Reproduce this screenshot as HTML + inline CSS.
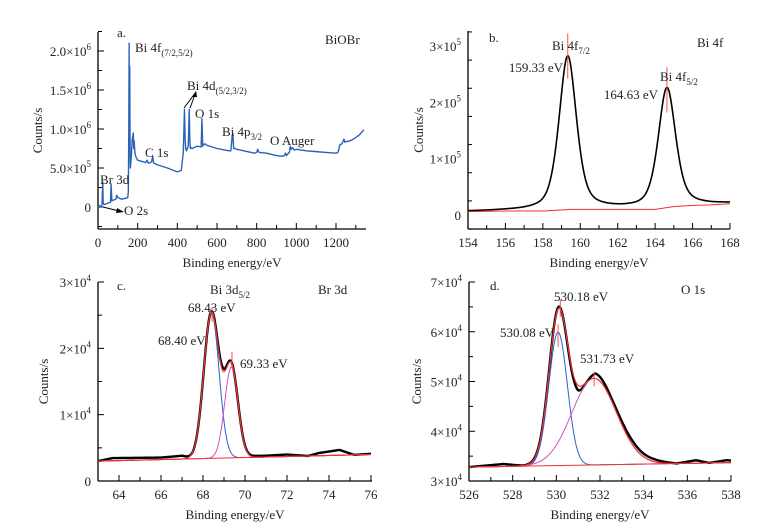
<!DOCTYPE html>
<html><head><meta charset="utf-8"><style>
html,body{margin:0;padding:0;background:#fff}
svg{display:block;font-family:"Liberation Serif",serif}
</style></head><body>
<svg id="fig" width="778" height="526" viewBox="0 0 778 526"></svg>
<script>
// ---- Panel a: survey spectrum (eV, counts in 1e6) ----
const aX=[0,5,10,20,24,26,30,50,63,66,70,90,95,100,120,150,153,155,157,158,160,162,163,165,168,172,178,180,182,186,190,200,240,248,252,256,270,276,280,284,300,350,400,420,430,436,439,442,446,455,460,463,466,470,475,500,520,524,528,532,540,550,600,660,670,676,680,684,690,700,790,800,805,812,850,900,930,940,945,950,965,970,974,980,990,1000,1050,1100,1150,1200,1210,1220,1230,1235,1240,1245,1250,1260,1280,1300,1320,1340];
const aY=[0.0,0.02,0.0,0.03,0.32,0.05,0.03,0.05,0.06,0.29,0.08,0.1,0.15,0.12,0.1,0.12,0.2,0.9,2.1,1.1,1.8,0.6,0.5,0.55,0.65,0.85,0.95,0.75,0.85,0.7,0.65,0.6,0.57,0.6,0.57,0.56,0.58,0.65,0.57,0.56,0.54,0.5,0.45,0.47,0.7,1.25,0.9,0.75,0.72,0.78,1.25,0.85,0.75,0.76,0.75,0.78,0.77,1.13,0.78,0.8,0.81,0.79,0.75,0.72,0.72,0.9,0.94,0.75,0.75,0.74,0.69,0.7,0.74,0.7,0.69,0.66,0.65,0.66,0.69,0.66,0.7,0.78,0.74,0.76,0.73,0.74,0.72,0.71,0.7,0.69,0.7,0.8,0.81,0.84,0.87,0.83,0.84,0.84,0.86,0.89,0.93,0.99];
const aYTicks=[0,0.5,1.0,1.5,2.0];
const aYLabels=["0","5.0×10^5","1.0×10^6","1.5×10^6","2.0×10^6"];
const aXTicks=[0,200,400,600,800,1000,1200];

// ---- Panel b: Bi 4f (counts in 1e5) ----
const bCenters=[159.33,164.63];
const bHeights=[2.72,2.12];
const bFwhm=[1.1,1.1];
const bBaseX=[154,156,158,159.5,160.5,164,165,166,167,168];
const bBaseY=[0.06,0.07,0.07,0.1,0.1,0.1,0.15,0.17,0.18,0.2];
const bYTicks=[0,1,2,3];
const bYLabels=["0","1×10^5","2×10^5","3×10^5"];
const bXTicks=[154,156,158,160,162,164,166,168];

// ---- Panel c: Br 3d (counts in 1e4) ----
const cCenters=[68.4,69.35];
const cHeights=[2.2,1.37];
const cFwhm=[0.85,0.75];
const cBaseX=[63,76];
const cBaseY=[0.3,0.4];
const cResX=[63,63.7,66,67,67.5,68.4,68.9,69.5,70.5,71,72,73,73.5,74.5,75.2,76];
const cResY=[0,0.04,0.03,0.05,0,0,0.05,0,0.02,0.02,0.03,0.0,0.04,0.08,0.0,0.01];
const cYTicks=[0,1,2,3];
const cYLabels=["0","1×10^4","2×10^4","3×10^4"];
const cXTicks=[64,66,68,70,72,74,76];

// ---- Panel d: O 1s (counts in 1e4) ----
const dCenters=[530.08,531.73];
const dHeights=[2.68,1.74];
const dFwhm=[1.0,2.4];
const dBaseX=[526,538];
const dBaseY=[3.28,3.37];
const dResX=[526,527.6,528.5,530.1,531,531.8,532.5,533.5,534.5,535.5,536.4,537,537.8,538];
const dResY=[0,0.05,0,0.03,-0.1,0.1,0.05,0.08,0.05,0,0.06,0,0.05,0.04];
const dYTicks=[3,4,5,6,7];
const dYLabels=["3×10^4","4×10^4","5×10^4","6×10^4","7×10^4"];
const dXTicks=[526,528,530,532,534,536,538];

const NS="http://www.w3.org/2000/svg";
const svg=document.getElementById('fig');
function mk(tag,attrs,parent){const e=document.createElementNS(NS,tag);for(const k in attrs)e.setAttribute(k,attrs[k]);(parent||svg).appendChild(e);return e;}
function lin(d0,d1,r0,r1){return v=>r0+(v-d0)*(r1-r0)/(d1-d0);}
function interp(xs,ys,x){if(x<=xs[0])return ys[0];for(let i=1;i<xs.length;i++){if(x<=xs[i]){const t=(x-xs[i-1])/(xs[i]-xs[i-1]);return ys[i-1]+t*(ys[i]-ys[i-1]);}}return ys[ys.length-1];}
function pv(x,c,h,w,eta){const d=(x-c)/w;return h*(eta/(1+4*d*d)+(1-eta)*Math.exp(-4*Math.LN2*d*d));}
function txt(x,y,s,opts,parent){
  const t=mk('text',Object.assign({x:x,y:y,'font-size':13,fill:'#222'},opts||{}),parent);
  const m=s.match(/^([^\^_]*)([\^_])(.*)$/);
  if(!m){t.textContent=s;return t;}
  const a=mk('tspan',{},t);a.textContent=m[1];
  const up=m[2]==='^';
  const b=mk('tspan',{dy:up?-6:4,'font-size':9},t);b.textContent=m[3];
  return t;
}
function axes(g,p,xTicks,xMinorStep,yTicks,yLabels,yMinorStep){
  mk('line',{x1:p.L,y1:p.T,x2:p.L,y2:p.B,stroke:'#000','stroke-width':1.3},g);
  mk('line',{x1:p.L,y1:p.B,x2:p.R,y2:p.B,stroke:'#000','stroke-width':1.3},g);
  for(let v=p.x0;v<=p.x1+1e-9;v+=xMinorStep){const x=p.sx(v);
    const major=xTicks.some(t=>Math.abs(t-v)<1e-6);
    mk('line',{x1:x,y1:p.B,x2:x,y2:p.B-(major?6:4),stroke:'#000','stroke-width':1},g);}
  xTicks.forEach(v=>{const t=txt(p.sx(v),p.B+18,String(v),{'text-anchor':'middle'},g);
    });
  for(let v=p.y0;v<=p.y1+1e-9;v+=yMinorStep){const y=p.sy(v);
    const major=yTicks.some(t=>Math.abs(t-v)<1e-6);
    mk('line',{x1:p.L,y1:y,x2:p.L+(major?6:4),y2:y,stroke:'#000','stroke-width':1},g);}
  yTicks.forEach((v,i)=>{const t=txt(p.L-7,p.sy(v)+5,yLabels[i],{'text-anchor':'end'},g);
    });
  const xt=txt((p.L+p.R)/2,p.B+38,'Binding energy/eV',{'text-anchor':'middle'},g);
  
  const yt=txt(0,0,'Counts/s',{'text-anchor':'middle',transform:`translate(${p.yTitleX},${(p.T+p.B)/2}) rotate(-90)`},g);
  
}
function path(g,pts,color,w,name){const d=pts.map((q,i)=>(i?'L':'M')+q[0].toFixed(2)+','+q[1].toFixed(2)).join('');
  const e=mk('path',{d:d,fill:'none',stroke:color,'stroke-width':w,'stroke-linejoin':'round'},g);
  return e;}
function sample(p,f){const pts=[];for(let i=0;i<=400;i++){const x=p.x0+(p.x1-p.x0)*i/400;pts.push([p.sx(x),p.sy(f(x))]);}return pts;}
function mark(g,x,y1,y2){mk('line',{x1:x,y1:y1,x2:x,y2:y2,stroke:'#f05050','stroke-width':1},g);}

// Panel a
(function(){
  const g=mk('g',{});
  const p={L:98,R:366,T:32,B:229,x0:0,x1:1350,y0:-0.25,y1:2.25,yTitleX:42};
  p.sx=lin(0,1200,98,336);p.sy=lin(0,2,207,51);
  axes(g,p,aXTicks,100,aYTicks,aYLabels,0.25);
  path(g,aX.map((x,i)=>[p.sx(x),p.sy(aY[i])]),'#2a62b8',1.4,'survey-line');
  txt(117,37,'a.',{},g);
  txt(325,44,'BiOBr',{},g);
  txt(135,52,'Bi 4f_(7/2,5/2)',{},g);
  txt(187,90,'Bi 4d_(5/2,3/2)',{},g);
  txt(195,118,'O 1s',{},g);
  txt(145,157,'C 1s',{},g);
  txt(222,136,'Bi 4p_3/2',{},g);
  txt(270,145,'O Auger',{},g);
  txt(100,184,'Br 3d',{},g);
  txt(124,215,'O 2s',{},g);
  mk('line',{x1:184,y1:108,x2:196,y2:92,stroke:'#000','stroke-width':1},g);
  mk('line',{x1:190,y1:108,x2:196,y2:92,stroke:'#000','stroke-width':1},g);
  mk('polygon',{points:'196,91 192,97 197,97',fill:'#000'},g);
  mk('line',{x1:103,y1:207,x2:119,y2:211,stroke:'#000','stroke-width':1},g);
  mk('polygon',{points:'124,212 117,208 116,213',fill:'#000'},g);
})();

// Panel b
(function(){
  const g=mk('g',{});
  const p={L:468,R:730,T:31,B:229,x0:154,x1:168,y0:-0.25,y1:3.25,yTitleX:423};
  p.sx=lin(154,168,468,730);p.sy=lin(0,3,215,46);
  axes(g,p,bXTicks,1,bYTicks,bYLabels,0.5);
  const base=x=>interp(bBaseX,bBaseY,x);
  path(g,sample(p,x=>base(x)+bCenters.reduce((s,c,i)=>s+pv(x,c,bHeights[i],bFwhm[i],0.5),0)),'#000',1.6,'bi4f-spectrum');
  path(g,sample(p,base),'#f03030',1,'bi4f-background');
  bCenters.forEach((c,i)=>mark(g,p.sx(c),p.sy(bHeights[i]+0.5),p.sy(bHeights[i]-0.3)));
  txt(489,42,'b.',{},g);
  txt(697,47,'Bi 4f',{},g);
  txt(552,50,'Bi 4f_7/2',{},g);
  txt(563,72,'159.33 eV',{'text-anchor':'end'},g);
  txt(660,81,'Bi 4f_5/2',{},g);
  txt(658,99,'164.63 eV',{'text-anchor':'end'},g);
})();

// Panel c
(function(){
  const g=mk('g',{});
  const p={L:98,R:372,T:282,B:481,x0:63,x1:76,y0:0,y1:3,yTitleX:48};
  p.sx=lin(64,76,119,371);p.sy=lin(0,3,481,282);
  axes(g,p,cXTicks,1,cYTicks,cYLabels,0.5);
  const base=x=>interp(cBaseX,cBaseY,x);
  const fit=x=>base(x)+cCenters.reduce((s,c,i)=>s+pv(x,c,cHeights[i],cFwhm[i],0),0);
  path(g,sample(p,x=>fit(x)+interp(cResX,cResY,x)),'#000',2.4,'br3d-spectrum');
  path(g,sample(p,x=>base(x)+pv(x,cCenters[0],cHeights[0],cFwhm[0],0)),'#2a62c8',1,'br3d-component-1');
  path(g,sample(p,x=>base(x)+pv(x,cCenters[1],cHeights[1],cFwhm[1],0)),'#d050c0',1,'br3d-component-2');
  path(g,sample(p,base),'#f03030',1,'br3d-background');
  path(g,sample(p,fit),'#f03030',1.2,'br3d-envelope');
  mark(g,p.sx(68.43),p.sy(2.62),p.sy(2.4));mark(g,p.sx(69.38),p.sy(1.95),p.sy(1.7));
  txt(117,290,'c.',{},g);
  txt(318,294,'Br 3d',{},g);
  txt(210,294,'Bi 3d_5/2',{},g);
  txt(188,312,'68.43 eV',{},g);
  txt(158,345,'68.40 eV',{},g);
  txt(240,368,'69.33 eV',{},g);
})();

// Panel d
(function(){
  const g=mk('g',{});
  const p={L:469,R:731,T:282,B:481,x0:526,x1:538,y0:3,y1:7,yTitleX:421};
  p.sx=lin(526,538,469,731);p.sy=lin(3,7,481,282);
  axes(g,p,dXTicks,1,dYTicks,dYLabels,0.5);
  const base=x=>interp(dBaseX,dBaseY,x);
  const fit=x=>base(x)+dCenters.reduce((s,c,i)=>s+pv(x,c,dHeights[i],dFwhm[i],0),0);
  path(g,sample(p,x=>fit(x)+interp(dResX,dResY,x)),'#000',2.4,'o1s-spectrum');
  path(g,sample(p,x=>base(x)+pv(x,dCenters[0],dHeights[0],dFwhm[0],0)),'#2a62c8',1,'o1s-component-1');
  path(g,sample(p,x=>base(x)+pv(x,dCenters[1],dHeights[1],dFwhm[1],0)),'#d050c0',1,'o1s-component-2');
  path(g,sample(p,base),'#f03030',1,'o1s-background');
  path(g,sample(p,fit),'#f03030',1.2,'o1s-envelope');
  mark(g,p.sx(530.18),p.sy(6.65),p.sy(6.3));mark(g,p.sx(530.08),p.sy(6.15),p.sy(5.7));mark(g,p.sx(531.73),p.sy(5.2),p.sy(4.9));
  txt(490,290,'d.',{},g);
  txt(681,294,'O 1s',{},g);
  txt(554,301,'530.18 eV',{},g);
  txt(500,337,'530.08 eV',{},g);
  txt(580,363,'531.73 eV',{},g);
})();
</script>
</body></html>
